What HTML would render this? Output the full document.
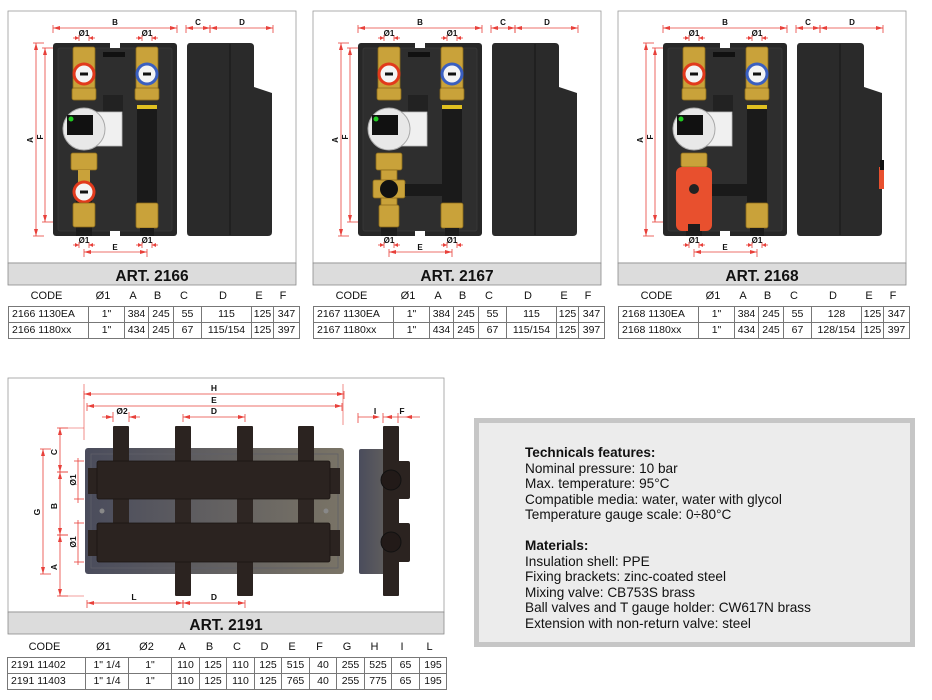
<!DOCTYPE html>
<html><head><meta charset="utf-8">
<style>
html,body{margin:0;padding:0;background:#fff;}
body{width:932px;height:700px;overflow:hidden;position:relative;font-family:"Liberation Sans",sans-serif;}
svg{position:absolute;left:0;top:0;}
.tb{position:absolute;border-collapse:collapse;font-size:10.5px;color:#111;}
.tb td{border:1px solid #777;text-align:center;padding:0;height:15px;line-height:15px;}
.tb td.c{text-align:left;padding-left:3px;}
.hd{position:absolute;font-size:11px;color:#111;}
.hd span{position:absolute;transform:translateX(-50%);white-space:nowrap;}
#tech{position:absolute;left:474px;top:418px;width:431px;height:219px;border:5px solid #c6c6c6;background:#ececec;}
#tech div{position:absolute;left:46px;top:22px;font-size:13.6px;line-height:15.5px;color:#111;}
</style></head><body>
<svg id="s" width="932" height="700" xmlns="http://www.w3.org/2000/svg"></svg>

<div id="tech"><div><b>Technicals features:</b><br>Nominal pressure: 10 bar<br>Max. temperature: 95°C<br>Compatible media: water, water with glycol<br>Temperature gauge scale: 0÷80°C<br><br><b>Materials:</b><br>Insulation shell: PPE<br>Fixing brackets: zinc-coated steel<br>Mixing valve: CB753S brass<br>Ball valves and T gauge holder: CW617N brass<br>Extension with non-return valve: steel</div></div>

<div id="tables"></div>

<script>
var s='';
var R='#e8403a';
function line(x1,y1,x2,y2,c,w){return '<line x1="'+x1+'" y1="'+y1+'" x2="'+x2+'" y2="'+y2+'" stroke="'+(c||R)+'" stroke-width="'+(w||0.8)+'"/>';}
function arrH(x1,x2,y){
 var o=line(x1,y,x2,y);
 o+='<polygon points="'+x1+','+y+' '+(x1+7)+','+(y-2)+' '+(x1+7)+','+(y+2)+'" fill="'+R+'"/>';
 o+='<polygon points="'+x2+','+y+' '+(x2-7)+','+(y-2)+' '+(x2-7)+','+(y+2)+'" fill="'+R+'"/>';
 o+=line(x1,y-3,x1,y+5)+line(x2,y-3,x2,y+5);
 return o;}
function arrV(x,y1,y2){
 var o=line(x,y1,x,y2);
 o+='<polygon points="'+x+','+y1+' '+(x-2)+','+(y1+7)+' '+(x+2)+','+(y1+7)+'" fill="'+R+'"/>';
 o+='<polygon points="'+x+','+y2+' '+(x-2)+','+(y2-7)+' '+(x+2)+','+(y2-7)+'" fill="'+R+'"/>';
 o+=line(x-3,y1,x+8,y1)+line(x-3,y2,x+8,y2);
 return o;}
function small(cx,y){
 return line(cx-11,y,cx-5,y)+line(cx+5,y,cx+11,y)+'<polygon points="'+(cx-5)+','+y+' '+(cx-9)+','+(y-2)+' '+(cx-9)+','+(y+2)+'" fill="'+R+'"/><polygon points="'+(cx+5)+','+y+' '+(cx+9)+','+(y-2)+' '+(cx+9)+','+(y+2)+'" fill="'+R+'"/>'+line(cx-5,y-3,cx-5,y+3)+line(cx+5,y-3,cx+5,y+3);}
function t(x,y,str,sz,rot,anchor){
 var tr=rot?' transform="rotate(-90 '+x+' '+y+')"':'';
 return '<text x="'+x+'" y="'+y+'" font-size="'+sz+'" font-weight="bold" text-anchor="'+(anchor||'middle')+'" font-family="Liberation Sans, sans-serif" fill="#111"'+tr+'>'+str+'</text>';}
function rect(x,y,w,h,f,rx,st){return '<rect x="'+x+'" y="'+y+'" width="'+w+'" height="'+h+'" fill="'+f+'"'+(rx?' rx="'+rx+'"':'')+(st?' stroke="'+st+'" stroke-width="0.8"':'')+'/>';}
function brass(cx,y,h,w){w=w||26;return rect(cx-w/2,y,w,h,'#c9a23a',2,'#8a6a1a');}
function gauge(cx,cy,c){return '<circle cx="'+cx+'" cy="'+cy+'" r="11.5" fill="'+c+'"/><circle cx="'+cx+'" cy="'+cy+'" r="8.5" fill="#f4f4f4"/>'+rect(cx-4,cy-1.5,8,3,'#111');}

function panel(o,art,type){
 var X=function(v){return v+o;};
 var p='';
 p+=rect(X(8),11,288,252,'#fff',0,'#9a9a9a');
 p+=rect(X(8),263,288,22,'#dcdcdc',0,'#8a8a8a');
 p+=t(X(152),281,'ART. '+art,15.5);
 p+=arrH(X(53),X(177),28)+t(X(115),25,'B',8);
 p+=arrH(X(186),X(210),28)+t(X(198),25,'C',8);
 p+=arrH(X(210),X(273),28)+t(X(242),25,'D',8);
 p+=small(X(84),38)+t(X(84),36,'Ø1',8)+small(X(147),38)+t(X(147),36,'Ø1',8);
 p+=arrV(X(36),43,236)+t(X(33),140,'A',8,1);
 p+=arrV(X(45),48,222)+t(X(43),137,'F',8,1);
 p+=small(X(84),245)+t(X(84),243,'Ø1',8)+small(X(147),245)+t(X(147),243,'Ø1',8);
 p+=arrH(X(84),X(147),252)+t(X(115),250,'E',8);
 p+=rect(X(53),43,124,193,'#272727',3);
 p+=rect(X(58),48,114,183,'#2e2e2e',2,'#3a3a3a');
 p+=rect(X(110),43,10,5,'#fff')+rect(X(110),231,10,5,'#fff');
 p+=rect(X(103),52,22,5,'#111')+rect(X(103),95,20,20,'#222');
 p+=rect(X(76),200,16,36,'#1c1c1c');
 p+=brass(X(84),47,53,22)+rect(X(72),88,24,12,'#c9a23a',2,'#8a6a1a');
 p+=gauge(X(84),74,'#e23a1c');
 p+=rect(X(90),112,32,34,'#f0f0f0',0,'#bbb');
 p+='<circle cx="'+X(84)+'" cy="'+129+'" r="21" fill="#e8e8e8" stroke="#aaa" stroke-width="1"/>';
 p+=rect(X(67),115,26,20,'#111')+'<circle cx="'+X(71)+'" cy="119" r="2.5" fill="#2c2"/>';
 p+=brass(X(147),47,53,22)+rect(X(135),88,24,12,'#c9a23a',2,'#8a6a1a');
 p+=gauge(X(147),74,'#3a5fc0');
 p+=rect(X(137),105,20,4,'#e0c020')+rect(X(137),109,20,96,'#1a1a1a');
 p+=brass(X(147),203,25,22)+rect(X(140),228,14,8,'#1c1c1c');
 if(type==0){
  p+=brass(X(84),153,17,26)+rect(X(78),170,12,12,'#c9a23a');
  p+=gauge(X(84),192,'#e23a1c');
  p+=brass(X(84),203,24,22);
 } else if(type==1){
  p+=brass(X(84),153,17,26)+rect(X(76),170,16,50,'#c9a23a',0,'#8a6a1a');
  p+=rect(X(68),180,32,18,'#c9a23a',2,'#8a6a1a');
  p+=rect(X(100),184,40,12,'#1a1a1a');
  p+='<circle cx="'+X(84)+'" cy="189" r="9" fill="#111"/>';
  p+=brass(X(84),205,22,20);
 } else {
  p+=brass(X(84),153,14,26);
  p+=rect(X(100),184,40,12,'#1a1a1a');
  p+=rect(X(66),167,36,64,'#e8502e',6);
  p+='<circle cx="'+X(84)+'" cy="189" r="5" fill="#222"/>';
  p+=rect(X(78),224,12,12,'#1c1c1c');
 }
 p+='<path d="M'+X(190)+',43 H'+X(250)+' Q'+X(254)+',43 '+X(254)+',47 V'+87+' L'+X(272)+',93 V232 Q'+X(272)+',236 '+X(268)+',236 H'+X(190)+' Q'+X(187)+',236 '+X(187)+',232 V47 Q'+X(187)+',43 '+X(190)+',43Z" fill="#2a2a2a"/>';
 p+=line(X(230),44,X(230),235,'#151515',1);
 if(type==2){p+=rect(X(269),167,5,22,'#e8502e')+rect(X(270),160,4,10,'#111');}
 return p;}

s+=panel(0,'2166',0)+panel(305,'2167',1)+panel(610,'2168',2);

s+=rect(8,378,436,234,'#fff',0,'#9a9a9a');
s+=rect(8,612,436,22,'#dcdcdc',0,'#8a8a8a');
s+=t(226,630,'ART. 2191',15.5);
s+='<defs><linearGradient id="g" x1="0" x2="1"><stop offset="0" stop-color="#4a4c5c"/><stop offset="1" stop-color="#7a7466"/></linearGradient><linearGradient id="g2" x1="0" x2="1"><stop offset="0" stop-color="#4a4c5c"/><stop offset="1" stop-color="#6a665e"/></linearGradient></defs>';
s+=rect(85,448,259,126,'url(#g)',3);
s+=rect(91,454,247,114,'none',0,'#5f5f68');
s+=rect(88,468,10,26,'#2b2320')+rect(330,468,10,26,'#2b2320');
s+=rect(88,530,10,26,'#2b2320')+rect(330,530,10,26,'#2b2320');
[113,175,237,298].forEach(function(x){s+=rect(x,426,16,40,'#2b2320',1)+rect(x,499,16,25,'#2e2623');});
[175,237].forEach(function(x){s+=rect(x,558,16,38,'#2b2320',1);});
s+=rect(97,461,233,38,'#2b2320',2,'#1a1412')+rect(97,523,233,39,'#2b2320',2,'#1a1412');
s+='<circle cx="102" cy="511" r="2.5" fill="#888"/><circle cx="326" cy="511" r="2.5" fill="#888"/>';
s+=rect(359,449,39,125,'url(#g2)',2);
s+=rect(383,426,16,170,'#2b2320',1);
s+=rect(395,461,15,38,'#2b2320',2)+rect(395,523,15,39,'#2b2320',2);
s+='<circle cx="391" cy="480" r="10" fill="#221a18" stroke="#111" stroke-width="1"/><circle cx="391" cy="542" r="10" fill="#221a18" stroke="#111" stroke-width="1"/>';
s+=arrH(84,344,394)+t(214,391,'H',8.5);
s+=arrH(87,342,406)+t(214,403,'E',8.5);
s+=arrH(183,245,417)+t(214,414,'D',8.5);
s+=line(102,417,113,417)+line(129,417,140,417)+line(113,412,113,422)+line(129,412,129,422)+'<polygon points="113,417 106,415 106,419" fill="'+R+'"/><polygon points="129,417 136,415 136,419" fill="'+R+'"/>'+t(122,414,'Ø2',8.5);
s+=line(358,417,375,417)+line(383,417,420,417)+line(358,413,358,423)+line(383,413,383,423)+line(398,413,398,423)+'<polygon points="380,417 373,415 373,419" fill="'+R+'"/><polygon points="385,417 392,415 392,419" fill="'+R+'"/><polygon points="405,417 412,415 412,419" fill="'+R+'"/>'+t(375,414,'I',8.5)+t(402,414,'F',8.5);
s+=line(84,384,84,440,R,0.6)+line(343,384,343,425,R,0.6);
s+=arrH(87,183,603)+t(134,600,'L',8.5);
s+=arrH(183,245,603)+t(214,600,'D',8.5);
s+=arrV(43,449,574)+t(40,512,'G',8.5,1);
s+=arrV(60,428,472)+t(57,452,'C',8.5,1);
s+=arrV(60,472,535)+t(57,506,'B',8.5,1);
s+=arrV(60,535,596)+t(57,567,'A',8.5,1);
s+=line(59,428,84,428,R,0.6)+line(59,596,84,596,R,0.6);
s+=line(78,458,78,503)+line(78,520,78,565)+line(74,461,84,461)+line(74,499,84,499)+line(74,523,84,523)+line(74,562,84,562);
s+=t(76,480,'Ø1',8.5,1)+t(76,542,'Ø1',8.5,1);
document.getElementById('s').innerHTML=s;

var th='';
function table(left,top,cols,hdr,rows,hy){
 var h='<div class="hd" style="left:0;top:'+hy+'px;width:932px;height:14px;">';
 var x=left;
 for(var i=0;i<cols.length;i++){h+='<span style="left:'+(x+cols[i]/2)+'px">'+hdr[i]+'</span>';x+=cols[i];}
 h+='</div><table class="tb" style="left:'+left+'px;top:'+top+'px;">';
 rows.forEach(function(r){h+='<tr>';r.forEach(function(c,i){h+='<td'+(i==0?' class="c"':'')+' style="width:'+(cols[i]-1)+'px">'+c+'</td>';});h+='</tr>';});
 return h+'</table>';}
var tc=[77,36,24,25,28,50,22,26];
var hd=['CODE','Ø1','A','B','C','D','E','F'];
th+=table(8,306,tc,hd,[['2166 1130EA','1"','384','245','55','115','125','347'],['2166 1180xx','1"','434','245','67','115/154','125','397']],290);
th+=table(313,306,tc,hd,[['2167 1130EA','1"','384','245','55','115','125','347'],['2167 1180xx','1"','434','245','67','115/154','125','397']],290);
th+=table(618,306,tc,hd,[['2168 1130EA','1"','384','245','55','128','125','347'],['2168 1180xx','1"','434','245','67','128/154','125','397']],290);
th+=table(7,657,[75,43,43,28,27,28,27,28,27,28,27,28,27],['CODE','Ø1','Ø2','A','B','C','D','E','F','G','H','I','L'],[['2191 11402','1" 1/4','1"','110','125','110','125','515','40','255','525','65','195'],['2191 11403','1" 1/4','1"','110','125','110','125','765','40','255','775','65','195']],641);
document.getElementById('tables').innerHTML=th;
</script>
</body></html>
